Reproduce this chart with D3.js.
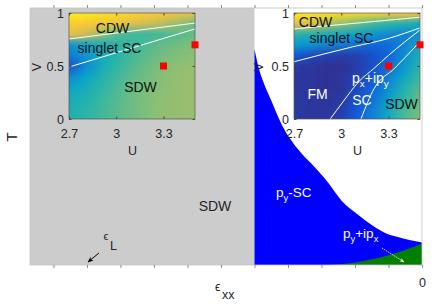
<!DOCTYPE html>
<html lang="en">
<meta charset="utf-8">
<style>
    html, body { margin: 0; padding: 0; background: #fff; }
    svg { display: block; font-family: "Liberation Sans", Arial, Helvetica, sans-serif; }
    .lbl { fill: #262626; }
</style>
<body>
<svg id="svg" width="436" height="308"></svg>
<script src="https://cdn.jsdelivr.net/npm/d3@7"></script>
<script>
// ---- main panel data (strain eps_xx vs T) ----
var epsTicks = [-0.11, -0.10, -0.09, -0.08, -0.07, -0.06, -0.05, -0.04, -0.03, -0.02, -0.01, 0];
var sdwEdge = -0.05;          // SDW for eps below this
var epsL = -0.10;             // Lifshitz strain marker
// upper boundary of the p_y-SC dome
var tcEps = [-0.050, -0.049, -0.047, -0.045, -0.042, -0.037, -0.032, -0.028, -0.024, -0.019, -0.015, -0.011, -0.0075, 0];
var tcT   = [0.84, 0.78, 0.70, 0.64, 0.55, 0.45, 0.38, 0.32, 0.25, 0.195, 0.156, 0.125, 0.11, 0.088];
// upper boundary of the p_y+ip_x region
var mixEps = [-0.028, -0.02, -0.015, -0.01, -0.005, 0];
var mixT   = [0, 0.01, 0.022, 0.038, 0.058, 0.084];

// ---- inset data (U vs V maps) ----
var uGrid = [2.7, 2.8, 2.9, 3.0, 3.1, 3.2, 3.3, 3.4, 3.5];
var vRows = [1.0, 0.9, 0.8, 0.7, 0.6, 0.5, 0.4, 0.3, 0.2, 0.1, 0.0];
var uTicks = [2.7, 3, 3.3];
var vTicks = [0, 0.5, 1];
var leftField = [
    [0.97,0.96,0.94,0.92,0.90,0.88,0.86,0.84,0.82],
    [0.88,0.86,0.84,0.82,0.78,0.74,0.70,0.64,0.58],
    [0.80,0.74,0.64,0.56,0.52,0.52,0.54,0.56,0.58],
    [0.32,0.38,0.44,0.48,0.52,0.55,0.58,0.60,0.62],
    [0.22,0.32,0.42,0.48,0.53,0.57,0.60,0.62,0.64],
    [0.10,0.28,0.42,0.50,0.55,0.59,0.62,0.64,0.65],
    [0.28,0.38,0.46,0.52,0.57,0.60,0.63,0.65,0.66],
    [0.38,0.43,0.49,0.54,0.58,0.61,0.63,0.65,0.66],
    [0.42,0.46,0.51,0.55,0.59,0.62,0.64,0.65,0.66],
    [0.45,0.48,0.52,0.56,0.59,0.62,0.64,0.65,0.66],
    [0.46,0.49,0.53,0.56,0.59,0.62,0.64,0.65,0.66]
];
var rightField = [
    [0.95,0.94,0.93,0.92,0.91,0.90,0.88,0.86,0.84],
    [0.80,0.76,0.70,0.64,0.58,0.52,0.48,0.45,0.42],
    [0.48,0.45,0.42,0.40,0.36,0.32,0.28,0.25,0.30],
    [0.34,0.30,0.26,0.22,0.18,0.16,0.18,0.26,0.42],
    [0.12,0.08,0.06,0.05,0.06,0.10,0.16,0.30,0.45],
    [0.04,0.03,0.02,0.02,0.05,0.10,0.18,0.34,0.48],
    [0.03,0.03,0.02,0.03,0.06,0.12,0.24,0.40,0.52],
    [0.03,0.03,0.02,0.03,0.08,0.16,0.30,0.46,0.56],
    [0.04,0.03,0.03,0.04,0.10,0.20,0.36,0.50,0.58],
    [0.04,0.03,0.03,0.05,0.12,0.24,0.40,0.53,0.60],
    [0.04,0.03,0.03,0.06,0.14,0.27,0.42,0.55,0.62]
];
// phase boundaries, as [U array, V array]
var leftLines = [
    [[2.7, 3.5], [0.755, 0.905]],
    [[2.7, 3.5], [0.49, 0.85]]
];
var rightLines = [
    [[2.7, 3.5], [0.85, 0.96]],
    [[2.7, 3.07, 3.3, 3.5], [0.54, 0.68, 0.76, 0.86]],
    [[2.93, 3.01, 3.11, 3.21, 3.3, 3.5], [0, 0.16, 0.35, 0.48, 0.6, 0.84]],
    [[3.125, 3.21, 3.34, 3.5], [0, 0.29, 0.48, 0.73]]
];
var markU = [3.3, 3.5];
var markV = [0.5, 0.7];

var parula = ["#352a87", "#0f5cdd", "#1481d6", "#06a4ca", "#2eb7a4", "#87bf77", "#d1bb59", "#fec832", "#f9fb0e"];

var svg = d3.select("svg"),
    margin = {top: 8, right: 14, bottom: 43, left: 30},
    width = +svg.attr("width"),
    height = +svg.attr("height");

var x = d3.scaleLinear()
    .domain([-0.117, 0])
    .range([margin.left, width - margin.right]);
var y = d3.scaleLinear()
    .domain([0, 1])
    .range([height - margin.bottom, margin.top]);

var color = d3.scaleLinear()
    .domain([0, 0.125, 0.25, 0.375, 0.5, 0.625, 0.75, 0.875, 1])
    .range(parula)
    .clamp(true);

var defs = svg.append("defs");
defs.append("marker").attr("id", "arrB")
    .attr("viewBox", "0 0 10 10").attr("refX", 9).attr("refY", 5)
    .attr("markerWidth", 6).attr("markerHeight", 6).attr("orient", "auto")
    .append("path").attr("d", "M0,1 L10,5 L0,9 L3,5 Z").attr("fill", "#000");
defs.append("marker").attr("id", "arrW")
    .attr("viewBox", "0 0 10 10").attr("refX", 9).attr("refY", 5)
    .attr("markerWidth", 6).attr("markerHeight", 6).attr("orient", "auto")
    .append("path").attr("d", "M0,1 L10,5 L0,9 L3,5 Z").attr("fill", "#fff");

// background + SDW region
svg.append("rect")
    .attr("x", x(-0.117)).attr("y", y(1))
    .attr("width", x(0) - x(-0.117)).attr("height", y(0) - y(1))
    .attr("fill", "#fff");
svg.append("rect")
    .attr("x", x(-0.117)).attr("y", y(1))
    .attr("width", x(sdwEdge) - x(-0.117)).attr("height", y(0) - y(1))
    .attr("fill", "#cccccc");

// p_y-SC dome (blue) and p_y+ip_x (green)
var tcData = tcEps.map((e, i) => [e, tcT[i]]);
var mixData = mixEps.map((e, i) => [e, mixT[i]]);
var area = d3.area()
    .x(d => x(d[0])).y0(y(0)).y1(d => y(d[1]))
    .curve(d3.curveMonotoneX);
svg.append("path").datum(tcData).attr("d", area).attr("fill", "#0000ff");
svg.append("path").datum(mixData).attr("d", area).attr("fill", "#007f00");

// main box and ticks
svg.append("rect")
    .attr("x", x(-0.117)).attr("y", y(1))
    .attr("width", x(0) - x(-0.117)).attr("height", y(0) - y(1))
    .attr("fill", "none").attr("stroke", "#c4c4c4").attr("stroke-width", 0.8);

function styleMain(g) {
    g.select(".domain").remove();
    g.selectAll(".tick line").attr("stroke", "#8a8a8a");
    g.selectAll(".tick text").attr("fill", "#262626")
        .attr("font-size", 12.5).attr("font-family", "Liberation Sans, Arial, sans-serif");
}
svg.append("g")
    .attr("transform", `translate(0,${y(0)})`)
    .call(d3.axisBottom(x).tickValues(epsTicks).tickSize(3).tickPadding(10)
        .tickFormat(d => Math.abs(d) < 1e-9 ? "0" : ""))
    .call(styleMain);
svg.append("g")
    .attr("transform", `translate(0,${y(1)})`)
    .call(d3.axisTop(x).tickValues(epsTicks).tickSize(3).tickFormat(""))
    .call(styleMain);

// main labels
svg.append("text").attr("class", "lbl")
    .attr("transform", "translate(17,137) rotate(-90)")
    .attr("text-anchor", "middle").attr("font-size", 15).text("T");

var epsLab = svg.append("g");
epsLab.append("text").attr("class", "lbl").attr("x", 215).attr("y", 291)
    .attr("font-size", 12).text("\u03f5");
epsLab.append("text").attr("class", "lbl").attr("x", 222).attr("y", 298.5)
    .attr("font-size", 12.5).text("xx");

svg.append("text").attr("class", "lbl").attr("x", 103.5).attr("y", 240)
    .attr("font-size", 11).text("\u03f5");
svg.append("text").attr("class", "lbl").attr("x", 110).attr("y", 250)
    .attr("font-size", 12.5).text("L");
svg.append("line")
    .attr("x1", x(epsL) + 12).attr("y1", y(0) - 12)
    .attr("x2", x(epsL) + 1).attr("y2", y(0) - 3)
    .attr("stroke", "#000").attr("stroke-width", 1)
    .attr("marker-end", "url(#arrB)");

svg.append("text").attr("class", "lbl").attr("x", 215).attr("y", 211)
    .attr("text-anchor", "middle").attr("font-size", 14).text("SDW");

function subText(g, px, py, parts, fill, size) {
    var t = g.append("text").attr("x", px).attr("y", py)
        .attr("fill", fill).attr("font-size", size);
    var shift = 0;
    parts.forEach(p => {
        var dy = (p.sub ? 4 : 0) - shift;
        shift = p.sub ? 4 : 0;
        t.append("tspan").attr("dy", dy)
            .attr("font-size", p.sub ? size * 0.7 : size).text(p.s);
    });
    return t;
}
subText(svg, 276, 197, [{s: "p"}, {s: "y", sub: true}, {s: "-SC"}], "#fff", 13.5);
subText(svg, 343, 238, [{s: "p"}, {s: "y", sub: true}, {s: "+ip"}, {s: "x", sub: true}], "#fff", 13.5);
svg.append("line")
    .attr("x1", 382).attr("y1", 248).attr("x2", 404).attr("y2", 262)
    .attr("stroke", "#fff").attr("stroke-width", 0.8).attr("stroke-dasharray", "1.5,0.8")
    .attr("marker-end", "url(#arrW)");

// ---- insets ----
function drawInset(id, x0, field, lines, texts, vLabX) {
    var w = 126, top = 13, bottom = 119;
    var xu = d3.scaleLinear().domain([2.7, 3.5]).range([x0, x0 + w]);
    var yv = d3.scaleLinear().domain([0, 1]).range([bottom, top]);
    var g = svg.append("g");

    defs.append("clipPath").attr("id", "clip" + id)
        .append("rect").attr("x", x0).attr("y", top).attr("width", w).attr("height", bottom - top);

    // colour field as a small image, smoothed when scaled
    var cols = uGrid.length, rows = vRows.length;
    var cv = document.createElement("canvas");
    cv.width = cols; cv.height = rows;
    var ctx = cv.getContext("2d");
    var img = ctx.createImageData(cols, rows);
    field.forEach((row, r) => row.forEach((v, c) => {
        var cc = d3.rgb(color(v)), k = 4 * (r * cols + c);
        img.data[k] = cc.r; img.data[k + 1] = cc.g; img.data[k + 2] = cc.b; img.data[k + 3] = 255;
    }));
    ctx.putImageData(img, 0, 0);
    var cw = (xu(uGrid[cols - 1]) - xu(uGrid[0])) / (cols - 1);
    var ch = (yv(vRows[rows - 1]) - yv(vRows[0])) / (rows - 1);
    g.append("g").attr("clip-path", `url(#clip${id})`)
        .append("image")
        .attr("href", cv.toDataURL())
        .attr("x", xu(uGrid[0]) - cw / 2).attr("y", yv(vRows[0]) - ch / 2)
        .attr("width", cw * cols).attr("height", ch * rows)
        .attr("preserveAspectRatio", "none");

    var line = d3.line().x(d => xu(d[0])).y(d => yv(d[1])).curve(d3.curveMonotoneX);
    var lg = g.append("g").attr("clip-path", `url(#clip${id})`);
    lines.forEach(l => {
        lg.append("path").datum(l[0].map((u, i) => [u, l[1][i]]))
            .attr("d", line).attr("fill", "none").attr("stroke", "#fff").attr("stroke-width", 1);
    });

    texts.forEach(t => {
        if (t.parts) subText(g, t.x, t.y, t.parts, t.fill, 14);
        else g.append("text").attr("x", t.x).attr("y", t.y).attr("text-anchor", "middle")
            .attr("fill", t.fill).attr("font-size", 14).text(t.s);
    });

    // axes, ticks pointing in
    function styleIn(a) {
        a.select(".domain").remove();
        a.selectAll(".tick line").attr("stroke", "#444");
        a.selectAll(".tick text").attr("fill", "#262626").attr("font-size", 12.5)
            .attr("font-family", "Liberation Sans, Arial, sans-serif");
    }
    g.append("g").attr("transform", `translate(0,${bottom})`)
        .call(d3.axisBottom(xu).tickValues(uTicks).tickSize(-2.5).tickPadding(10.5).tickFormat(d3.format("~g")))
        .call(styleIn);
    g.append("g").attr("transform", `translate(0,${top})`)
        .call(d3.axisTop(xu).tickValues(uTicks).tickSize(-2.5).tickFormat(""))
        .call(styleIn);
    g.append("g").attr("transform", `translate(${x0},0)`)
        .call(d3.axisLeft(yv).tickValues(vTicks).tickSize(-2.5).tickPadding(5).tickFormat(d3.format("~g")))
        .call(styleIn);
    g.append("g").attr("transform", `translate(${x0 + w},0)`)
        .call(d3.axisRight(yv).tickValues(vTicks).tickSize(-2.5).tickFormat(""))
        .call(styleIn);
    g.append("rect").attr("x", x0).attr("y", top).attr("width", w).attr("height", bottom - top)
        .attr("fill", "none").attr("stroke", "#555").attr("stroke-width", 0.7);

    g.selectAll(".mark").data(markU).enter().append("rect")
        .attr("class", "mark")
        .attr("x", (d, i) => xu(d) - 3.5).attr("y", (d, i) => yv(markV[i]) - 3.5)
        .attr("width", 7).attr("height", 7).attr("fill", "#ff0000");

    g.append("text").attr("class", "lbl")
        .attr("transform", `translate(${vLabX},67) rotate(-90)`)
        .attr("text-anchor", "middle").attr("font-size", 12.5).text("V");
    g.append("text").attr("class", "lbl")
        .attr("x", x0 + w / 2 + 0.5).attr("y", 155)
        .attr("text-anchor", "middle").attr("font-size", 12.5).text("U");
}

drawInset("L", 69, leftField, leftLines, [
    {s: "CDW", x: 112.5, y: 33, fill: "#111"},
    {s: "singlet SC", x: 109.5, y: 53, fill: "#111"},
    {s: "SDW", x: 140.5, y: 92, fill: "#111"}
], 41);

drawInset("R", 294, rightField, rightLines, [
    {s: "CDW", x: 315.5, y: 27, fill: "#111"},
    {s: "singlet SC", x: 341.5, y: 43, fill: "#111"},
    {s: "FM", x: 317.5, y: 99, fill: "#fff"},
    {x: 352, y: 83, fill: "#fff", parts: [{s: "p"}, {s: "x", sub: true}, {s: "+ip"}, {s: "y", sub: true}]},
    {s: "SC", x: 362, y: 105, fill: "#fff"},
    {s: "SDW", x: 401.5, y: 109, fill: "#111"}
], 263);
</script>
</body>
</html>
